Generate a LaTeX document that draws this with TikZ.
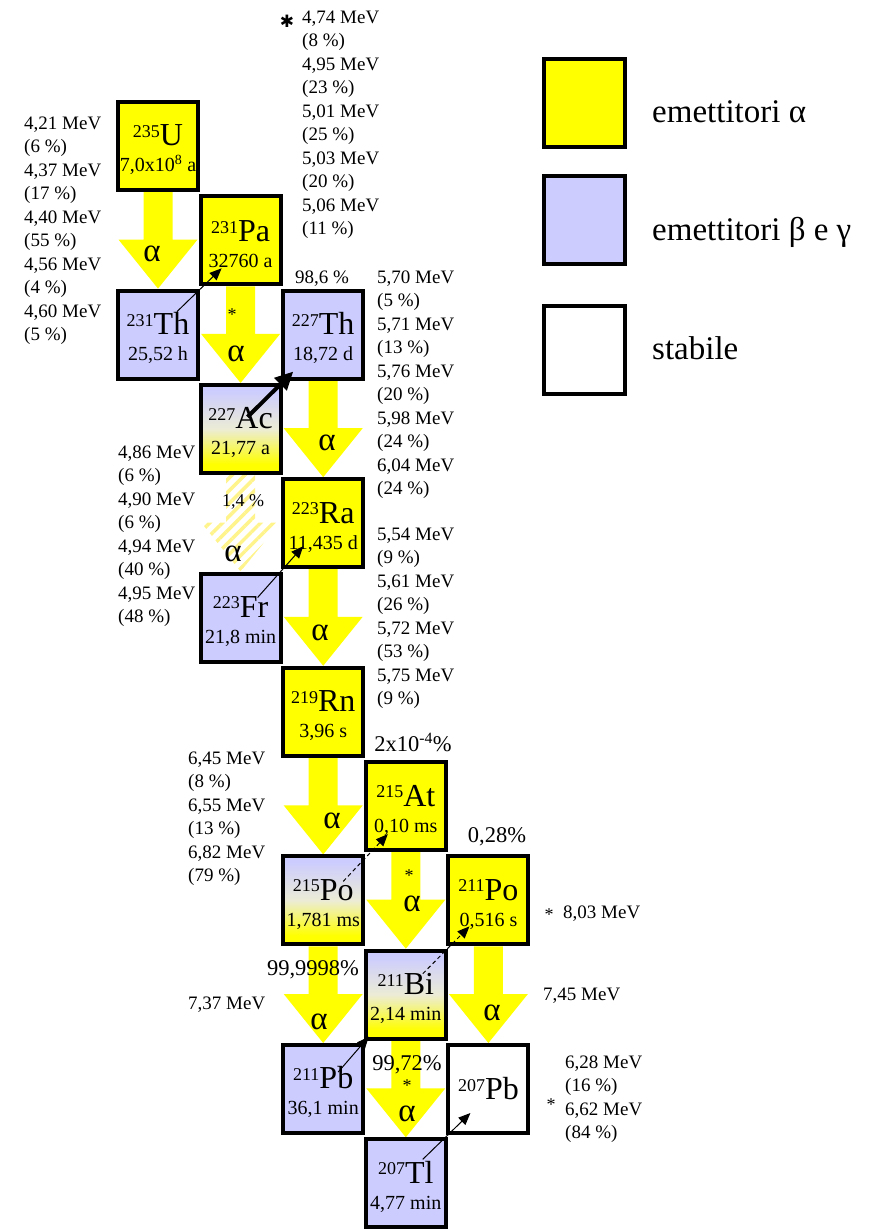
\documentclass[tikz,border=0pt]{standalone}
\usepackage{fontspec}
\setmainfont{Liberation Serif}
\newfontfamily\symfont{DejaVu Sans}
\usetikzlibrary{calc,arrows.meta,patterns.meta}
\definecolor{ayellow}{RGB}{255,255,0}
\definecolor{lav}{RGB}{204,204,255}
\definecolor{midtone}{RGB}{236,236,214}
\definecolor{hatch}{RGB}{255,243,140}
\pgfdeclareverticalshading{lavtoyellow}{100bp}{color(0bp)=(ayellow); color(30bp)=(ayellow); color(50bp)=(midtone); color(72bp)=(lav); color(100bp)=(lav)}
\pgfdeclarelayer{bg}
\pgfsetlayers{bg,main}
% mass number, symbol, half-life
\newcommand\nuc[3]{\rule{0pt}{29pt}{\fontsize{18}{18}\selectfont\raisebox{8.5pt}{#1}}{\fontsize{32}{32}\selectfont #2}\\#3}
\newcommand\nucstable[2]{{\fontsize{18}{18}\selectfont\raisebox{8.5pt}{#1}}{\fontsize{32}{32}\selectfont #2}}
% broad alpha arrow from the bottom of one box to the top of another
\newcommand\alphaarrow[3][fill=ayellow]{%
  \path[#1] let \p1=(#2.south), \p2=(#3.north) in
    (\x1-14.5pt,\y1) -- (\x1+14.5pt,\y1) -- (\x1+14.5pt,\y2+49pt) -- (\x1+39.5pt,\y2+49pt)
    -- (\x1,\y2) -- (\x1-39.5pt,\y2+49pt) -- (\x1-14.5pt,\y2+49pt) -- cycle;}
\begin{document}
\begin{tikzpicture}[x=1pt,y=-1pt,
  nbox/.style={draw=black,line width=4pt,minimum width=80pt,minimum height=88pt,
    inner sep=0pt,align=center,font=\fontsize{20}{26}\selectfont},
  aem/.style={nbox,fill=ayellow},
  bem/.style={nbox,fill=lav},
  mixed/.style={nbox,shading=lavtoyellow},
  stab/.style={nbox,fill=white},
  legbox/.style={draw=black,line width=4pt,minimum width=81pt,minimum height=88pt,inner sep=0pt},
  legtxt/.style={font=\fontsize{33}{33}\selectfont,inner sep=0pt,anchor=base west},
  alab/.style={font=\fontsize{33}{33}\selectfont,inner sep=0pt},
  txt/.style={font=\fontsize{19}{23.5}\selectfont,inner sep=0pt,align=left},
  pct/.style={font=\fontsize{19}{19}\selectfont,inner sep=0pt,anchor=base},
  bigpct/.style={font=\fontsize{22.5}{22.5}\selectfont,inner sep=0pt,anchor=base},
  smallstar/.style={font=\fontsize{18}{18}\selectfont,inner sep=0pt},
  bigstar/.style={font=\symfont\fontsize{17}{17}\selectfont,inner sep=0pt},
  betaline/.style={line width=1pt,-{Triangle[length=12pt,width=10pt]}},
  betadash/.style={betaline,dash pattern=on 4pt off 3pt},
  betathick/.style={line width=4pt,-{Triangle[length=18pt,width=17pt]}},
  hatched/.style={pattern={Lines[angle=45,distance=9pt,line width=3.5pt]},pattern color=hatch}]
\useasboundingbox (0,0) rectangle (873,1229);

% nuclide boxes
\node[aem]   (U235)  at (158,146)      {\nuc{235}{U}{7,0x10\textsuperscript{8} a}};
\node[aem]   (Pa231) at (240.6,240.3)  {\nuc{231}{Pa}{32760 a}};
\node[bem]   (Th231) at (158,334.6)    {\nuc{231}{Th}{25,52 h}};
\node[bem]   (Th227) at (323.2,334.6)  {\nuc{227}{Th}{18,72 d}};
\node[mixed] (Ac227) at (240.6,428.9)  {\nuc{227}{Ac}{21,77 a}};
\node[aem]   (Ra223) at (323.2,523.2)  {\nuc{223}{Ra}{11,435 d}};
\node[bem]   (Fr223) at (240.6,617.5)  {\nuc{223}{Fr}{21,8 min}};
\node[aem]   (Rn219) at (323.2,711.8)  {\nuc{219}{Rn}{3,96 s}};
\node[aem]   (At215) at (405.8,806.1)  {\nuc{215}{At}{0,10 ms}};
\node[mixed] (Po215) at (323.2,900.4)  {\nuc{215}{Po}{1,781 ms}};
\node[aem]   (Po211) at (488.4,900.4)  {\nuc{211}{Po}{0,516 s}};
\node[mixed] (Bi211) at (405.8,994.7)  {\nuc{211}{Bi}{2,14 min}};
\node[bem]   (Pb211) at (323.2,1089)   {\nuc{211}{Pb}{36,1 min}};
\node[stab]  (Pb207) at (488.4,1089)   {\nucstable{207}{Pb}};
\node[bem]   (Tl207) at (405.8,1183.3) {\nuc{207}{Tl}{4,77 min}};

% alpha decays
\begin{pgfonlayer}{bg}
  \alphaarrow{U235}{Th231}
  \alphaarrow{Pa231}{Ac227}
  \alphaarrow{Th227}{Ra223}
  \alphaarrow[hatched]{Ac227}{Fr223}
  \alphaarrow{Ra223}{Rn219}
  \alphaarrow{Rn219}{Po215}
  \alphaarrow{At215}{Bi211}
  \alphaarrow{Po215}{Pb211}
  \alphaarrow{Po211}{Pb207}
  \alphaarrow{Bi211}{Tl207}
\end{pgfonlayer}

% beta decays
\draw[betaline]  ($(Th231.north east)+(-23,23)$) -- ($(Pa231.south west)+(23,-18)$);
\draw[betathick] ($(Ac227.north east)+(-35,34)$) -- ($(Th227.south west)+(12,-9)$);
\draw[betaline]  ($(Fr223.north east)+(-25,26)$) -- ($(Ra223.south west)+(22,-23)$);
\draw[betadash]  ($(Po215.north east)+(-22,27)$) -- ($(At215.south west)+(24,-18)$);
\draw[betadash]  ($(Bi211.north east)+(-25,25)$) -- ($(Po211.south west)+(23,-20)$);
\draw[betaline]  ($(Pb211.north east)+(-27,29)$) -- ($(Bi211.south west)+(5,-4)$);
\draw[betaline]  ($(Tl207.north east)+(-25,22)$) -- ($(Pb207.south west)+(24,-22)$);

% labels on the alpha arrows
\node[alab] (a1) at (152,254) {α};
\node[smallstar] (s1) at (232,315) {*};
\node[alab] (a2) at (236,354) {α};
\node[alab] (a3) at (327,443) {α};
\node[pct,font=\fontsize{18}{18}\selectfont] (p14) at (243,506.5) {1,4 \%};
\node[alab] (a4) at (233,554) {α};
\node[alab] (a5) at (320,633) {α};
\node[alab] (a6) at (332,821) {α};
\node[smallstar] (s2) at (409,876) {*};
\node[alab] (a7) at (412,904) {α};
\node[bigpct] (p9998) at (313,975) {99,9998\%};
\node[alab] (a8) at (319,1022) {α};
\node[alab] (a9) at (492,1013) {α};
\node[bigpct] (p9972) at (407,1070) {99,72\%};
\node[smallstar] (s3) at (407,1086) {*};
\node[alab] (a10) at (407,1114) {α};

% branching ratios
\node[pct] (p986) at (322,283.5) {98,6 \%};
\node[bigpct] (p2e4) at (413,751) {2x10\textsuperscript{-4}\%};
\node[bigpct] (p028) at (497,842) {0,28\%};

% alpha energies
\node[bigstar] (st0) at (287,21) {✱};
\node[txt,anchor=north west] (ePa) at (302,10.5) {4,74 MeV\\(8 \%)\\4,95 MeV\\(23 \%)\\5,01 MeV\\(25 \%)\\5,03 MeV\\(20 \%)\\5,06 MeV\\(11 \%)};
\node[txt,anchor=north west] (eU) at (24,116.5) {4,21 MeV\\(6 \%)\\4,37 MeV\\(17 \%)\\4,40 MeV\\(55 \%)\\4,56 MeV\\(4 \%)\\4,60 MeV\\(5 \%)};
\node[txt,anchor=north west] (eTh) at (377,270.5) {5,70 MeV\\(5 \%)\\5,71 MeV\\(13 \%)\\5,76 MeV\\(20 \%)\\5,98 MeV\\(24 \%)\\6,04 MeV\\(24 \%)};
\node[txt,anchor=north west] (eAc) at (118,445.5) {4,86 MeV\\(6 \%)\\4,90 MeV\\(6 \%)\\4,94 MeV\\(40 \%)\\4,95 MeV\\(48 \%)};
\node[txt,anchor=north west] (eRa) at (377,527.5) {5,54 MeV\\(9 \%)\\5,61 MeV\\(26 \%)\\5,72 MeV\\(53 \%)\\5,75 MeV\\(9 \%)};
\node[txt,anchor=north west] (eRn) at (188,751.5) {6,45 MeV\\(8 \%)\\6,55 MeV\\(13 \%)\\6,82 MeV\\(79 \%)};
\node[txt,anchor=base west] (ePo215) at (188,1009.5) {7,37 MeV};
\node[smallstar] (st1) at (549,915) {*};
\node[txt,anchor=base west] (ePo211a) at (563,918.5) {8,03 MeV};
\node[txt,anchor=base west] (ePo211b) at (543,1000.5) {7,45 MeV};
\node[smallstar] (st2) at (551,1105) {*};
\node[txt,anchor=north west] (eBi) at (565,1055.5) {6,28 MeV\\(16 \%)\\6,62 MeV\\(84 \%)};

% legend
\node[legbox,fill=ayellow] (legA) at (584.5,103) {};
\node[legbox,fill=lav]     (legB) at (584.5,220) {};
\node[legbox,fill=white]   (legC) at (584.5,349.5) {};
\node[legtxt] (legAt) at (652,122) {emettitori α};
\node[legtxt] (legBt) at (652,240) {emettitori β e γ};
\node[legtxt] (legCt) at (652,359) {stabile};
\end{tikzpicture}
\end{document}
